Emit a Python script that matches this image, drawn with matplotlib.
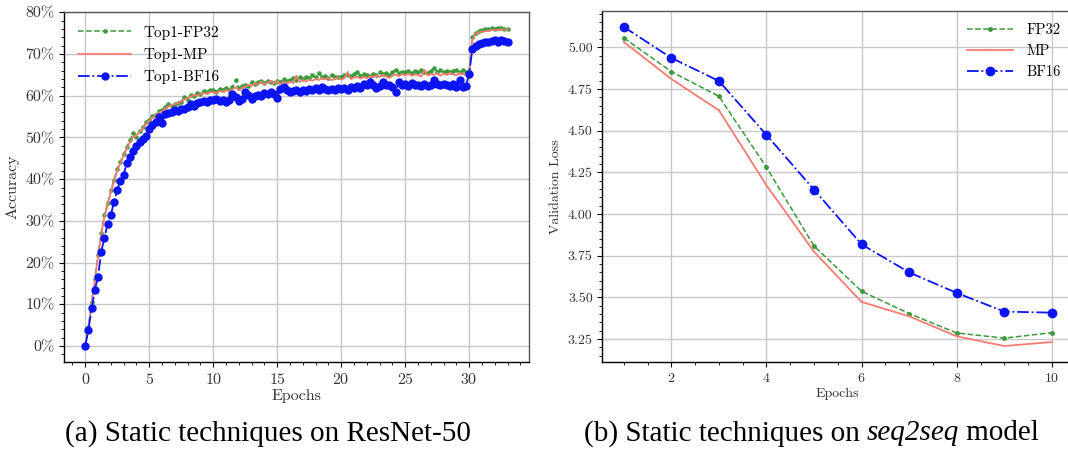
import numpy as np
import matplotlib
matplotlib.use("Agg")
import matplotlib.pyplot as plt
from matplotlib.ticker import AutoMinorLocator, PercentFormatter, MultipleLocator

plt.rcParams['font.family'] = ['cmr10', 'DejaVu Serif']
plt.rcParams['axes.formatter.use_mathtext'] = True

# --- (a) ResNet-50 top-1 accuracy (%), sampled every quarter epoch ---
epochs_a = np.arange(0, 33.25, 0.25)

top1_fp32 = [
    0.0, 4.5, 10.5, 16.0,   21.8, 27.0, 31.5, 34.2,   37.3, 39.8, 42.5, 44.2,
    46.0, 47.8, 49.3, 51.1, 50.2, 51.6, 52.4, 53.6,   54.3, 55.1, 55.5, 56.3,
    56.6, 57.3, 58.1, 57.5, 58.0, 58.3, 58.6, 59.8,   59.1, 60.3, 59.9, 60.6,
    60.4, 61.1, 60.9, 61.4, 61.3, 61.0, 61.6, 61.5,   61.9, 61.4, 62.0, 63.8,
    61.8, 62.3, 62.6, 62.4, 63.2, 62.8, 63.3, 63.6,   63.1, 63.6, 63.4, 63.0,
    63.5, 63.2, 64.0, 63.6, 63.8, 64.2, 63.7, 64.5,   64.1, 64.6, 64.3, 64.9,
    64.4, 65.4, 64.5, 64.8, 64.3, 64.9, 64.6, 64.4,   64.4, 64.9, 65.1, 64.7,
    65.2, 65.8, 64.8, 65.3, 65.0, 64.8, 65.3, 65.1,   65.6, 65.2, 65.4, 64.9,
    65.7, 66.2, 65.5, 65.8, 65.7, 66.0, 65.4, 65.9,   65.6, 66.1, 65.8, 65.5,
    66.0, 66.7, 65.8, 66.1, 65.7, 66.0, 65.6, 65.9,   66.1, 65.6, 66.2, 65.8,
    65.9, 74.0, 75.1, 75.5, 75.8, 75.9, 76.0, 76.2,   76.1, 76.3, 76.2, 76.1,
    76.0,
]
top1_mp = [
    0.0, 4.3, 10.2, 15.6,   21.4, 26.6, 31.0, 33.8,   36.8, 39.4, 42.0, 43.8,
    45.6, 47.4, 48.8, 50.1, 50.5, 51.4, 52.2, 53.3,   54.0, 54.7, 55.3, 55.9,
    56.3, 56.9, 57.4, 57.8, 58.0, 58.2, 58.7, 59.1,   59.5, 59.8, 60.2, 60.0,
    60.4, 60.6, 60.5, 60.9, 60.8, 60.6, 61.1, 61.0,   61.4, 61.0, 61.6, 62.0,
    61.3, 61.9, 62.2, 62.6, 62.4, 62.9, 62.6, 63.4,   62.7, 63.2, 63.5, 62.9,
    63.6, 62.8, 63.3, 63.1, 63.4, 63.0, 64.8, 63.3,   63.7, 63.4, 63.9, 63.6,
    64.0, 63.8, 64.2, 63.9, 64.3, 63.7, 64.1, 64.4,   63.9, 64.2, 65.6, 64.0,
    64.3, 64.6, 64.1, 64.5, 64.2, 64.7, 64.4, 64.9,   64.5, 65.0, 64.6, 64.3,
    64.8, 65.1, 64.7, 65.2, 64.9, 65.3, 64.8, 65.1,   65.0, 64.6, 66.1, 64.9,
    65.2, 65.0, 65.4, 64.8, 65.3, 65.0, 65.5, 65.1,   64.9, 65.4, 65.2, 65.0,
    65.1, 73.2, 74.8, 75.2, 75.4, 75.5, 75.6, 75.7,   75.8, 75.7, 75.9, 75.8,
    75.9,
]
top1_bf16 = [
    0.0, 3.8, 9.0, 13.5,    16.6, 22.5, 26.0, 29.2,   31.4, 34.5, 37.4, 39.6,
    41.0, 44.0, 45.3, 46.8, 47.9, 48.8, 49.6, 50.3,   52.0, 53.1, 53.6, 54.9,
    53.5, 55.6, 55.9, 56.2, 56.5, 56.3, 56.9, 56.8,   57.3, 58.0, 57.6, 58.2,
    58.4, 58.8, 58.6, 59.0, 58.9, 59.2, 58.7, 59.1,   58.4, 58.9, 60.4, 59.6,
    58.7, 59.3, 60.8, 60.1, 59.3, 59.9, 60.3, 60.0,   60.7, 60.4, 60.8, 60.5,
    59.4, 61.6, 62.0, 61.4, 60.8, 61.2, 61.5, 61.0,   61.4, 61.2, 61.6, 61.3,
    61.8, 61.5, 62.1, 61.6, 61.4, 61.7, 61.3, 61.8,   61.6, 61.9, 61.5, 62.0,
    61.8, 62.3, 61.9, 62.8, 62.5, 63.2, 62.6, 61.9,   62.3, 63.2, 62.5, 62.7,
    62.1, 60.8, 63.2, 62.6, 62.8, 62.4, 63.0, 62.5,   62.7, 62.4, 62.9, 62.3,
    62.6, 63.8, 62.8, 62.5, 62.9, 62.7, 62.4, 62.8,   62.2, 63.9, 62.2, 62.4,
    65.3, 71.2, 72.0, 72.5, 72.7, 73.0, 72.8, 73.2,   73.3, 73.0, 73.4, 73.1,
    73.0,
]

# --- (b) seq2seq validation loss ---
epochs_b = [1, 2, 3, 4, 5, 6, 7, 8, 9, 10]
loss_fp32 = [5.056, 4.854, 4.706, 4.280, 3.808, 3.537, 3.403, 3.287, 3.256, 3.289]
loss_mp = [5.032, 4.810, 4.622, 4.172, 3.774, 3.473, 3.387, 3.267, 3.209, 3.233]
loss_bf16 = [5.122, 4.936, 4.798, 4.474, 4.146, 3.818, 3.650, 3.527, 3.415, 3.409]

GREEN = '#3a9a3a'
RED = '#f77b72'
BLUE = '#0a14f5'
GRID = '#c8c8c8'
TXT = '#333333'


def style_axes(ax, fs):
    ax.grid(True, color=GRID, linewidth=1.0)
    ax.set_axisbelow(True)
    for side in ['left', 'bottom']:
        ax.spines[side].set_color('black')
        ax.spines[side].set_linewidth(1.0)
    for side in ['top', 'right']:
        ax.spines[side].set_color('#555555')
        ax.spines[side].set_linewidth(1.0)
    ax.tick_params(which='both', direction='out', top=False, right=False,
                   labelsize=fs, labelcolor=TXT, color='black')
    ax.tick_params(which='major', length=3.5, width=0.8)
    ax.tick_params(which='minor', length=2, width=0.6)


def caption(fig, parts, xc, yc):
    # parts: list of (text, style); laid out side by side, centred on xc
    texts = [fig.text(0, yc, s, fontsize=21, family='Liberation Serif',
                      style=st, ha='left', va='center', color='black')
             for s, st in parts]
    fig.canvas.draw()
    r = fig.canvas.get_renderer()
    widths = [t.get_window_extent(r).width / fig.bbox.width for t in texts]
    x = xc - sum(widths) / 2
    for t, w in zip(texts, widths):
        t.set_x(x)
        x += w


fig = plt.figure(figsize=(10.68, 4.57), dpi=100)

# (a)
ax1 = fig.add_axes([0.060, 0.208, 0.435, 0.766])
ax1.plot(epochs_a, top1_fp32, color=GREEN, linestyle='--', marker='.',
         markersize=4.5, linewidth=1.1, label='Top1-FP32')
ax1.plot(epochs_a, top1_mp, color=RED, linestyle='-', marker=',',
         linewidth=1.3, label='Top1-MP')
ax1.plot(epochs_a, top1_bf16, color=BLUE, linestyle='-.', marker='o',
         markersize=5, linewidth=1.3, label='Top1-BF16')
style_axes(ax1, 11.5)
ax1.yaxis.set_major_formatter(PercentFormatter(decimals=0))
ax1.yaxis.set_major_locator(MultipleLocator(10))
ax1.xaxis.set_major_locator(MultipleLocator(5))
ax1.xaxis.set_minor_locator(AutoMinorLocator())
ax1.yaxis.set_minor_locator(AutoMinorLocator())
ax1.set_xlabel('Epochs', fontsize=11.5, color=TXT, labelpad=2)
ax1.set_ylabel('Accuracy', fontsize=11.5, color=TXT, labelpad=4)
ax1.legend(loc='upper left', frameon=False, fontsize=11, handlelength=3.5,
           handletextpad=0.8, labelspacing=0.55, numpoints=1)

# (b)
ax2 = fig.add_axes([0.564, 0.208, 0.441, 0.768])
ax2.plot(epochs_b, loss_fp32, color=GREEN, linestyle='--', marker='.',
         markersize=5, linewidth=1.1, label='FP32')
ax2.plot(epochs_b, loss_mp, color=RED, linestyle='-', marker=',',
         linewidth=1.3, label='MP')
ax2.plot(epochs_b, loss_bf16, color=BLUE, linestyle='-.', marker='o',
         markersize=6, linewidth=1.3, label='BF16')
style_axes(ax2, 10)
ax2.xaxis.set_major_locator(MultipleLocator(2))
ax2.yaxis.set_major_locator(MultipleLocator(0.25))
ax2.yaxis.set_major_formatter(plt.FormatStrFormatter('%.2f'))
ax2.xaxis.set_minor_locator(AutoMinorLocator())
ax2.yaxis.set_minor_locator(AutoMinorLocator())
ax2.set_xlabel('Epochs', fontsize=10, color=TXT, labelpad=2)
ax2.set_ylabel('Validation Loss', fontsize=10, color=TXT, labelpad=4)
ax2.legend(loc='upper right', frameon=False, fontsize=10.5, handlelength=3.2,
           handletextpad=0.9, labelspacing=0.5, numpoints=1,
           borderaxespad=0.45)

caption(fig, [('(a) Static techniques on ResNet-50', 'normal')], 0.251, 0.052)
caption(fig, [('(b) Static techniques on ', 'normal'), ('seq2seq', 'italic'),
              (' model', 'normal')], 0.760, 0.052)

fig.savefig('out.png', dpi=100)
